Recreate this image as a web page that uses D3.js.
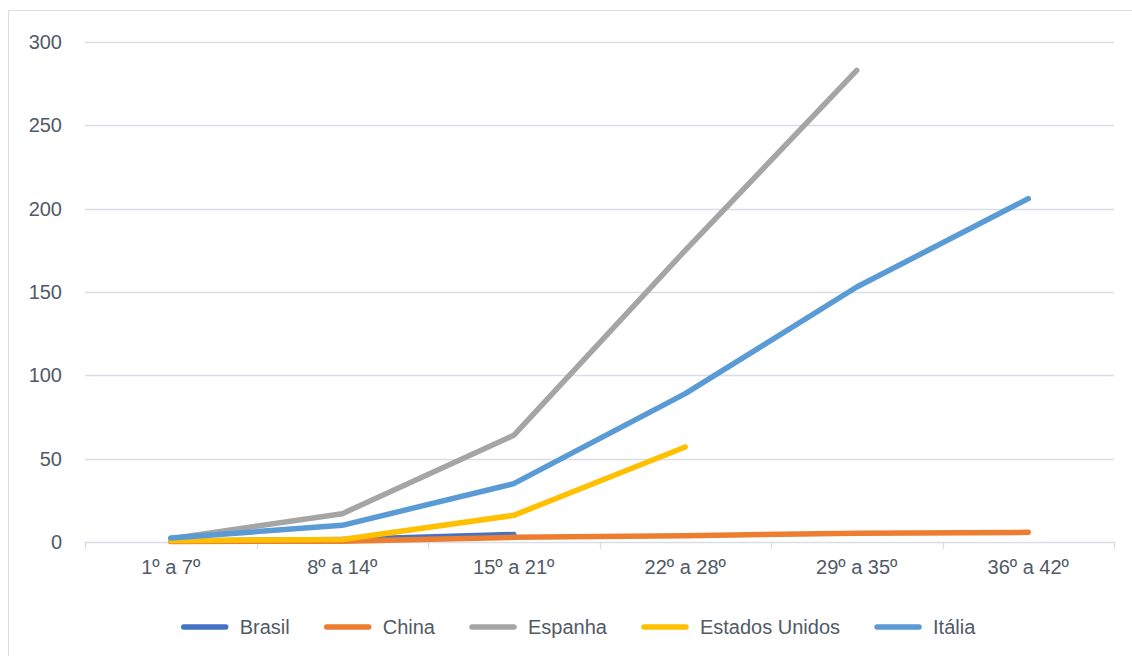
<!DOCTYPE html>
<html>
<head>
<meta charset="utf-8">
<script src="https://cdn.jsdelivr.net/npm/d3@7"></script>
<style>
  body { margin: 0; background: #fff; }
  text { font-family: "Liberation Sans", Arial, sans-serif; fill: #515a66; }
</style>
</head>
<body>
<div id="chart"></div>
<script>
// data
let categories = ['1º a 7º', '8º a 14º', '15º a 21º', '22º a 28º', '29º a 35º', '36º a 42º'];
let brasil = [0.5, 1.5, 4.5];
let china = [0.3, 0.5, 2.8, 3.8, 5.3, 5.8];
let espanha = [2, 17, 64, 175, 283];
let estadosUnidos = [0.8, 1.5, 16, 57];
let italia = [2.4, 10, 35, 89, 153, 206];
let yTicks = [0, 50, 100, 150, 200, 250, 300];

let seriesNames = ['Brasil', 'China', 'Espanha', 'Estados Unidos', 'Itália'];
let seriesValues = [brasil, china, espanha, estadosUnidos, italia];
let colors = ['#4472C4', '#ED7D31', '#A5A5A5', '#FFC000', '#5B9BD5'];

let svgWidth = 1132;
let svgHeight = 656;

let margin = { top: 42, right: 18, bottom: 114, left: 85 };
let width = svgWidth - margin.left - margin.right;
let height = svgHeight - margin.top - margin.bottom;

let svg = d3.select('#chart').append('svg')
  .attr('width', svgWidth)
  .attr('height', svgHeight);

// outer chart border
svg.append('rect')
  .attr('x', 8.5).attr('y', 10.5)
  .attr('width', svgWidth)
  .attr('height', svgHeight)
  .attr('fill', 'none')
  .attr('stroke', '#d9dde3');

let chartGroup = svg.append('g')
  .attr('transform', `translate(${margin.left}, ${margin.top})`);

let xScale = d3.scaleBand()
  .domain(categories)
  .range([0, width]);

let yScale = d3.scaleLinear()
  .domain([0, 300])
  .range([height, 0]);

// gridlines
chartGroup.append('g')
  .selectAll('line')
  .data(yTicks.filter(d => d > 0))
  .enter()
  .append('line')
  .attr('x1', 0).attr('x2', width)
  .attr('y1', d => Math.round(yScale(d)) + 0.5)
  .attr('y2', d => Math.round(yScale(d)) + 0.5)
  .attr('stroke', '#d9dee6')
  .attr('stroke-width', 1.3);

// y axis labels
let leftAxis = d3.axisLeft(yScale).tickValues(yTicks).tickSize(0).tickPadding(23);
let yAxis = chartGroup.append('g').call(leftAxis);
yAxis.select('.domain').remove();
yAxis.selectAll('text')
  .attr('font-size', '20px')
  .attr('font-family', null)
  .attr('fill', '#515a66');

// x axis with ticks between categories
let xAxis = chartGroup.append('g')
  .attr('transform', `translate(0, ${height})`);
xAxis.append('line')
  .attr('x1', 0).attr('x2', width)
  .attr('y1', 0.5).attr('y2', 0.5)
  .attr('stroke', '#d9dee6')
  .attr('stroke-width', 1.3);
xAxis.selectAll('.tick-mark')
  .data(d3.range(categories.length + 1))
  .enter()
  .append('line')
  .attr('x1', i => Math.round(i * xScale.step()) + 0.5)
  .attr('x2', i => Math.round(i * xScale.step()) + 0.5)
  .attr('y1', 0).attr('y2', 7)
  .attr('stroke', '#d9dee6')
  .attr('stroke-width', 1.3);
xAxis.selectAll('.xlabel')
  .data(categories)
  .enter()
  .append('text')
  .attr('x', d => xScale(d) + xScale.bandwidth() / 2)
  .attr('y', 32)
  .attr('text-anchor', 'middle')
  .attr('font-size', '20px')
  .text(d => d);

// lines
let line = d3.line()
  .x((d, i) => xScale(categories[i]) + xScale.bandwidth() / 2)
  .y(d => yScale(d));

seriesValues.forEach(function(vals, k) {
  chartGroup.append('path')
    .datum(vals)
    .attr('d', line)
    .attr('fill', 'none')
    .attr('stroke', colors[k])
    .attr('stroke-width', 5.5)
    .attr('stroke-linecap', 'round')
    .attr('stroke-linejoin', 'round');
});

// legend
let legend = svg.append('g');
let xPos = 0;
seriesNames.forEach(function(name, k) {
  let item = legend.append('g').attr('transform', `translate(${xPos}, 0)`);
  item.append('line')
    .attr('x1', 3).attr('x2', 45)
    .attr('y1', 0).attr('y2', 0)
    .attr('stroke', colors[k])
    .attr('stroke-width', 5.5)
    .attr('stroke-linecap', 'round');
  let t = item.append('text')
    .attr('x', 59)
    .attr('y', 7)
    .attr('font-size', '20px')
    .text(name);
  xPos += 59 + t.node().getComputedTextLength() + 34;
});
let legendWidth = xPos - 34;
legend.attr('transform', `translate(${578 - legendWidth / 2}, 627)`);
</script>
</body>
</html>
